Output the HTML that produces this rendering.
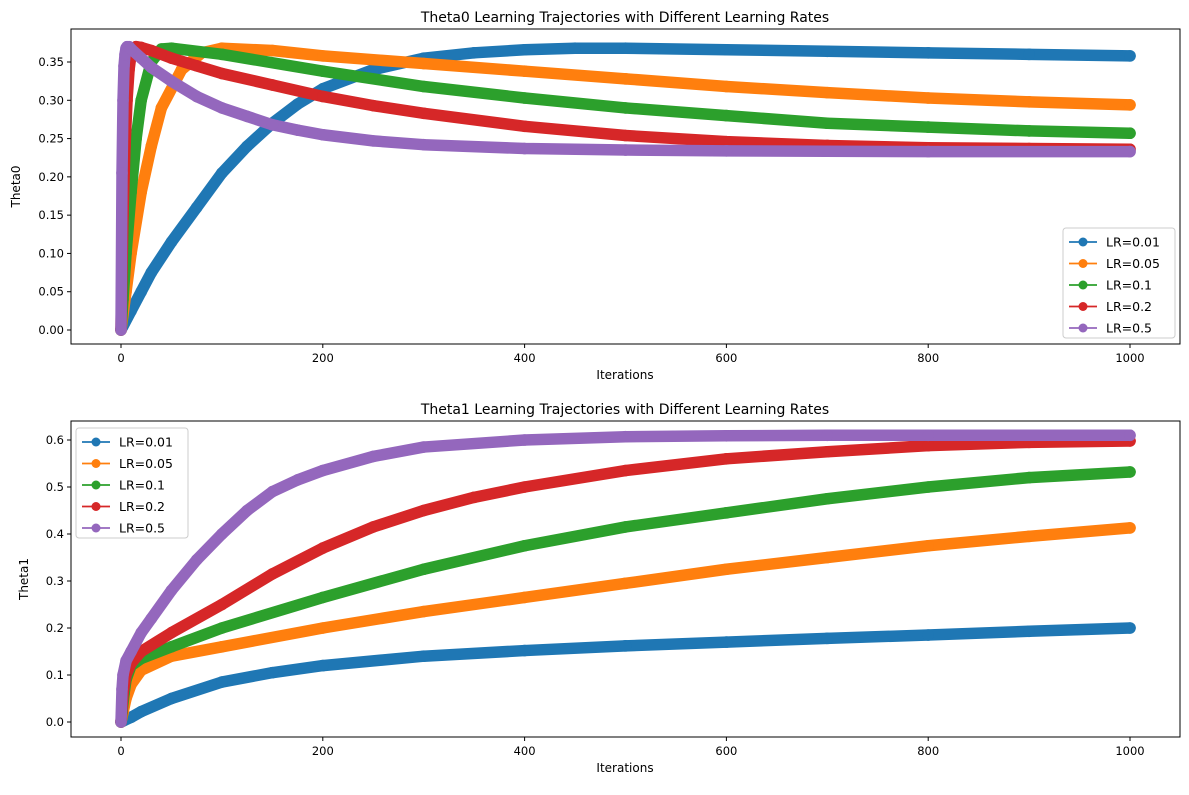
<!DOCTYPE html>
<html><head><meta charset="utf-8">
<style>
body{margin:0;background:#fff;font-family:"Liberation Sans","DejaVu Sans",sans-serif;}
svg text{font-family:"DejaVu Sans","Liberation Sans",sans-serif;}
</style></head>
<body>
<svg id="chart" width="1189" height="790" xmlns="http://www.w3.org/2000/svg"></svg>
<script>
const labels = ["LR=0.01","LR=0.05","LR=0.1","LR=0.2","LR=0.5"];
const colors = ["#1f77b4","#ff7f0e","#2ca02c","#d62728","#9467bd"];
const xTicks = [0,200,400,600,800,1000];
const yTicksTop = [0,0.05,0.10,0.15,0.20,0.25,0.30,0.35];
const yTicksBot = [0,0.1,0.2,0.3,0.4,0.5,0.6];

const t0_it_001 = [0,10,20,30,50,75,100,125,150,175,200,250,300,350,400,450,500,600,700,800,900,1000];
const t0_v_001  = [0,0.025,0.05,0.075,0.115,0.16,0.205,0.24,0.27,0.295,0.315,0.34,0.355,0.362,0.366,0.368,0.368,0.366,0.364,0.362,0.360,0.358];
const t0_it_005 = [0,5,10,20,30,40,60,80,100,150,200,300,400,500,600,700,800,900,1000];
const t0_v_005  = [0,0.05,0.1,0.18,0.24,0.29,0.34,0.362,0.368,0.365,0.358,0.348,0.338,0.328,0.318,0.31,0.303,0.298,0.294];
const t0_it_01 = [0,2,5,10,15,20,30,40,50,100,200,300,400,500,600,700,800,900,1000];
const t0_v_01  = [0,0.04,0.1,0.18,0.25,0.30,0.35,0.367,0.368,0.36,0.338,0.318,0.303,0.29,0.28,0.27,0.265,0.26,0.257];
const t0_it_02 = [0,1,2,4,6,8,10,15,20,30,50,75,100,150,200,250,300,400,500,600,700,800,900,1000];
const t0_v_02  = [0,0.08,0.15,0.24,0.30,0.34,0.36,0.37,0.369,0.365,0.355,0.345,0.335,0.32,0.305,0.293,0.283,0.266,0.254,0.246,0.241,0.238,0.237,0.236];
const t0_it_05 = [0,1,2,3,4,5,6,8,10,20,30,50,75,100,125,150,175,200,250,300,400,500,600,800,1000];
const t0_v_05  = [0,0.205,0.30,0.345,0.36,0.368,0.37,0.37,0.367,0.355,0.343,0.325,0.305,0.29,0.279,0.268,0.261,0.255,0.247,0.242,0.237,0.235,0.234,0.233,0.233];

const t1_it_001 = [0,10,20,50,100,150,200,300,400,500,600,700,800,900,1000];
const t1_v_001  = [0,0.01,0.022,0.05,0.085,0.105,0.12,0.14,0.152,0.162,0.17,0.178,0.185,0.193,0.2];
const t1_it_005 = [0,2,5,10,20,50,100,200,300,400,500,600,700,800,900,1000];
const t1_v_005  = [0,0.02,0.05,0.08,0.11,0.14,0.16,0.2,0.235,0.265,0.295,0.325,0.35,0.375,0.395,0.413];
const t1_it_01 = [0,1,3,5,10,20,50,100,200,300,400,500,600,700,800,900,1000];
const t1_v_01  = [0,0.02,0.06,0.09,0.12,0.135,0.16,0.2,0.265,0.325,0.375,0.415,0.445,0.475,0.5,0.52,0.532];
const t1_it_02 = [0,1,2,5,10,20,50,100,150,200,250,300,350,400,500,600,700,800,900,1000];
const t1_v_02  = [0,0.03,0.06,0.1,0.125,0.15,0.19,0.25,0.315,0.37,0.415,0.45,0.478,0.5,0.535,0.56,0.575,0.588,0.595,0.598];
const t1_it_05 = [0,1,2,5,10,20,30,50,75,100,125,150,175,200,250,300,400,500,600,700,800,1000];
const t1_v_05  = [0,0.07,0.1,0.13,0.15,0.19,0.22,0.28,0.345,0.4,0.45,0.49,0.515,0.535,0.565,0.585,0.6,0.607,0.609,0.61,0.61,0.61];

const svg = document.getElementById('chart');
const NS = "http://www.w3.org/2000/svg";
function mk(tag, attrs, parent){const e=document.createElementNS(NS,tag);for(const k in attrs)e.setAttribute(k,attrs[k]);(parent||svg).appendChild(e);return e;}

function panel(cfg){
  const g = mk('g',{});
  
  
  const xs = v => 121 + v*1.009;
  const ys = v => cfg.y0 - v*cfg.k;
  const title = mk('text',{x:625,y:cfg.top-7,'text-anchor':'middle','font-size':14,fill:'#000'},g);
  title.textContent = cfg.title;
  
  
  cfg.series.forEach((s,i)=>{
    const sg = mk('g',{},g);
    
    
    const pts = s[0].map((it,j)=>xs(it)+','+ys(s[1][j])).join(' ');
    mk('polyline',{points:pts,fill:'none',stroke:colors[i],'stroke-width':11.5,'stroke-linejoin':'round','stroke-linecap':'round'},sg);
    s[0].forEach((it,j)=>{
      const c = mk('circle',{cx:xs(it),cy:ys(s[1][j]),r:5.8,fill:colors[i]},sg);
      
      
    });
  });
  mk('rect',{x:71,y:cfg.top,width:1109,height:cfg.h,fill:'none',stroke:'#000','stroke-width':1},g);
  xTicks.forEach(t=>{
    const x=xs(t);
    mk('line',{x1:x,x2:x,y1:cfg.top+cfg.h,y2:cfg.top+cfg.h+4,stroke:'#000'},g);
    const tx=mk('text',{x:x,y:cfg.top+cfg.h+18,'text-anchor':'middle','font-size':11.5},g);
    tx.textContent=t;
    
    
  });
  cfg.yTicks.forEach(t=>{
    const y=ys(t);
    mk('line',{x1:67,x2:71,y1:y,y2:y,stroke:'#000'},g);
    const ty=mk('text',{x:64,y:y+4,'text-anchor':'end','font-size':11.5},g);
    ty.textContent=t.toFixed(cfg.dec);
    
    
  });
  const xl=mk('text',{x:625,y:cfg.top+cfg.h+35,'text-anchor':'middle','font-size':12},g);
  xl.textContent='Iterations';
  
  
  const yc=cfg.top+cfg.h/2;
  const yl=mk('text',{x:cfg.ylx,y:yc,'text-anchor':'middle','font-size':12,transform:`rotate(-90 ${cfg.ylx} ${yc})`},g);
  yl.textContent=cfg.ylabel;
  
  
  const lg=mk('g',{},g);
  
  
  mk('rect',{x:cfg.lx,y:cfg.ly,width:112,height:110,rx:3,fill:'#fff','fill-opacity':0.85,stroke:'#ccc'},lg);
  labels.forEach((l,i)=>{
    const y=cfg.ly+14+i*21.5;
    const e=mk('g',{},lg);
    
    
    mk('line',{x1:cfg.lx+6,x2:cfg.lx+34,y1:y,y2:y,stroke:colors[i],'stroke-width':1.8},e);
    mk('circle',{cx:cfg.lx+20,cy:y,r:4.5,fill:colors[i]},e);
    const t=mk('text',{x:cfg.lx+43,y:y+4.5,'font-size':12.5},e);
    t.textContent=l;
  });
}

panel({name:'theta0-panel',title:'Theta0 Learning Trajectories with Different Learning Rates',top:29,h:315,y0:330,k:765.7,yTicks:yTicksTop,dec:2,ylabel:'Theta0',ylx:20,lx:1063,ly:228,
  series:[[t0_it_001,t0_v_001],[t0_it_005,t0_v_005],[t0_it_01,t0_v_01],[t0_it_02,t0_v_02],[t0_it_05,t0_v_05]]});
panel({name:'theta1-panel',title:'Theta1 Learning Trajectories with Different Learning Rates',top:421,h:316,y0:722,k:470,yTicks:yTicksBot,dec:1,ylabel:'Theta1',ylx:28,lx:76,ly:428,
  series:[[t1_it_001,t1_v_001],[t1_it_005,t1_v_005],[t1_it_01,t1_v_01],[t1_it_02,t1_v_02],[t1_it_05,t1_v_05]]});
</script>
</body></html>
